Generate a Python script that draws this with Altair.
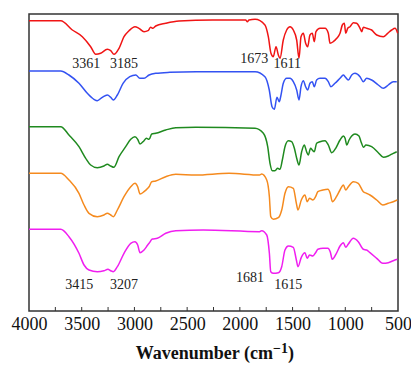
import altair as alt
import pandas as pd

# ---- data (wavenumber in cm-1, offset intensity in arbitrary units) ----
series_names = ["red", "blue", "green", "orange", "magenta"]
series_colors = ["#f01414", "#3352f2", "#1f8a1f", "#f58a1e", "#f01ef0"]

red_wn = [4000,3699,3589,3494,3415,3367,3320,3257,3225,3194,3146,3099,3051,2995,2957,2909,2871,2846,2824,2798,2703,2577,2261,1945,1929,1913,1856,1762,1730,1705,1683,1657,1635,1619,1588,1556,1524,1493,1461,1439,1420,1398,1376,1357,1335,1313,1294,1278,1240,1192,1161,1145,1114,1081,1050,1028,1009,996,977,955,924,892,860,844,829,797,750,702,639,598,560,528,503]
red_val = [290.3,290.3,281,274.3,264.3,256.7,257.7,261.7,260.3,256.7,262.7,274.3,280.3,284.3,282.7,279.3,280.3,283.7,282.7,285,287.7,290,291,291,289.3,291,291.7,286,274.3,257.7,254.3,264.3,256,252.7,271,281,284.3,281,271,252.7,274.3,277.7,267.7,264.3,276,277.7,269.3,279.3,282.7,282.7,277.7,267.7,269.3,272.7,277.7,286,287.7,277.7,282.7,284.3,288.3,287.7,282.7,279.3,283.7,282.7,281,276,274.3,277.7,281,282.7,277.7]

blue_wn = [4000,3699,3621,3526,3447,3384,3352,3305,3257,3225,3200,3162,3108,3044,2987,2949,2909,2861,2798,2665,2413,1856,1762,1721,1695,1673,1648,1626,1613,1588,1556,1524,1493,1461,1439,1420,1398,1376,1357,1335,1313,1294,1272,1240,1192,1161,1136,1098,1050,1018,1002,971,939,908,860,829,797,750,687,639,592,545,512]
blue_val = [240,240,236,227.7,217.7,211.7,210.3,213.7,216,213.7,211,216,227.7,234.3,236,232.7,232.7,236,237.7,238.7,239.3,239.3,234.3,221,204.3,201.7,213.7,209.3,214.3,227.7,232.7,232.7,229.3,221,211,224.3,230.3,224.3,221,227.7,229.3,224.3,231,232.7,232.7,229.3,224.3,227.7,232.7,236,234.3,231,236,237.7,234.3,229.3,232.7,231,226,222.7,226,229.3,229.3]

green_wn = [4000,3699,3621,3526,3462,3415,3352,3289,3257,3225,3194,3146,3083,3035,2995,2969,2947,2909,2887,2861,2836,2798,2703,2608,2419,1856,1777,1736,1714,1692,1667,1641,1619,1597,1572,1540,1509,1483,1461,1439,1414,1389,1367,1351,1329,1313,1294,1272,1240,1192,1161,1129,1091,1050,1018,1002,986,964,939,908,870,851,826,804,750,687,639,592,545,512]
green_val = [184.3,184.3,176,164.3,152.7,146,143.3,145,146.7,145,143.7,154.3,164.3,171.7,174.3,171.7,167,170.3,172.7,171.7,177,177.7,181,183.3,183.7,182.7,177.7,164.3,147.7,140.3,140.3,142.7,141.7,151,164.3,170.3,169.3,162.7,152.7,146,159.3,166,159.3,156,162.7,161,159.3,167.7,169.3,170.3,166,158.3,162.7,171,175,172.7,166,171,175,177,175,169.3,163.7,166,164.3,158.3,153.7,155,157.7,159.3]

orange_wn = [4000,3699,3621,3526,3478,3431,3352,3289,3257,3225,3200,3162,3099,3035,2995,2969,2947,2909,2874,2861,2836,2798,2703,2608,2419,2102,1813,1793,1745,1720,1707,1682,1635,1603,1572,1540,1493,1464,1449,1417,1383,1361,1339,1307,1282,1260,1212,1165,1143,1123,1084,1050,1018,996,971,924,877,829,797,766,702,645,592,545,507]
orange_val = [137.7,137.7,131,117.7,106,97.7,94.3,96,97.7,96,94.3,101,114.3,124.3,127.7,124.3,117,119.3,122.7,124.3,129.3,130,134.3,136.7,136,137.7,136,137,131,114.3,94.3,91.7,93.3,101,117.7,124.3,122.7,107.7,101,111,116,109.3,112.7,111,114.3,119.3,121,121.7,117.7,109.3,114.3,121,126,121,124.3,129.3,127.7,119.3,117.7,116,111,106,107.7,109.3,111]

magenta_wn = [4000,3699,3621,3526,3478,3431,3352,3289,3251,3225,3200,3162,3099,3035,2995,2969,2947,2909,2874,2861,2830,2783,2703,2608,2348,1813,1793,1745,1720,1707,1682,1635,1603,1572,1540,1493,1464,1449,1417,1383,1361,1339,1307,1282,1260,1212,1165,1143,1123,1084,1050,1018,996,971,924,877,829,797,766,702,645,592,545,507]
magenta_val = [81.7,81.7,74.3,57.7,46,41,39.3,40.3,41.7,40.3,39.3,44.3,57.7,67.7,69.3,66,58.3,61,66,67.7,72,72.7,77.7,80.3,81,79.3,80.3,76,57.7,39.3,37.7,38.3,44.3,61,65,63.7,51,44.3,53.7,58.3,52.7,56,55,58.3,61.7,62.7,62.7,59.3,51.7,57.7,65,68.3,63.7,67,72.7,69.3,61.7,61,58.3,52.7,47.7,48.3,50.3,51.7]

peak_labels = ["3361", "3185", "1673", "1611", "3415", "3207", "1681", "1615"]
peak_wn = [3456, 3099, 1863, 1550, 3523, 3099, 1904, 1541]
peak_val = [247, 247, 251.7, 246.7, 25.7, 25.7, 33.3, 26.3]

major_ticks = [4000, 3500, 3000, 2500, 2000, 1500, 1000, 500]
minor_ticks = [3750, 3500, 3250, 3000, 2750, 2500, 2250, 2000, 1750, 1500, 1250, 1000, 750]

title_main = "Wavenumber (cm"
title_sup = "\u22121"
title_end = ")"

# ---- build table ----
frames = []
for name, wn, val in zip(series_names,
                         [red_wn, blue_wn, green_wn, orange_wn, magenta_wn],
                         [red_val, blue_val, green_val, orange_val, magenta_val]):
    assert len(wn) == len(val), name
    frames.append(pd.DataFrame({"wn": wn, "val": val, "series": name}))
df = pd.concat(frames, ignore_index=True)

W, H = 369, 297
FONT = "Liberation Serif"

x_scale = alt.Scale(domain=[4000, 500], nice=False, zero=False)
y_scale = alt.Scale(domain=[0, 297], nice=False, zero=False)

lines = alt.Chart(df).mark_line(strokeWidth=1.5, interpolate="monotone").encode(
    x=alt.X("wn:Q", scale=x_scale,
            axis=alt.Axis(values=major_ticks, title=None,
                          ticks=False, domain=False, grid=False,
                          labelFont=FONT, labelFontSize=18, labelColor="#111",
                          labelPadding=4, labelFlush=False, labelOverlap=False,
                          format="d")),
    y=alt.Y("val:Q", scale=y_scale, axis=None),
    color=alt.Color("series:N", scale=alt.Scale(domain=series_names, range=series_colors), legend=None),
    detail="series:N",
)

ticks = alt.Chart(pd.DataFrame({"t": minor_ticks})).mark_rule(color="#333", strokeWidth=1).encode(
    x=alt.X("t:Q", scale=x_scale),
    y=alt.value(H),
    y2=alt.value(H - 4),
)

labels = alt.Chart(pd.DataFrame({"wn": peak_wn, "val": peak_val, "lab": peak_labels})).mark_text(
    font=FONT, fontSize=14, color="#222", align="center", baseline="middle"
).encode(
    x=alt.X("wn:Q", scale=x_scale),
    y=alt.Y("val:Q", scale=y_scale),
    text="lab:N",
)

one = pd.DataFrame({"k": [0]})
t_main = alt.Chart(one).mark_text(
    text=title_main, font=FONT, fontSize=18, fontWeight="bold", color="#111",
    align="right", baseline="alphabetic"
).encode(x=alt.value(244), y=alt.value(345))
t_sup = alt.Chart(one).mark_text(
    text=title_sup, font=FONT, fontSize=14, fontWeight="bold", color="#111",
    align="left", baseline="alphabetic"
).encode(x=alt.value(244), y=alt.value(338.5))
t_end = alt.Chart(one).mark_text(
    text=title_end, font=FONT, fontSize=18, fontWeight="bold", color="#111",
    align="left", baseline="alphabetic"
).encode(x=alt.value(259), y=alt.value(345))

chart = alt.layer(lines, ticks, labels, t_main, t_sup, t_end).properties(
    width=W, height=H,
    autosize=alt.AutoSizeParams(type="none"),
    padding={"left": 29, "top": 14, "right": 13, "bottom": 55},
).configure_view(stroke="#333333", strokeWidth=1.5)

chart.save("out.html", embed_options={"renderer": "svg", "actions": False})
